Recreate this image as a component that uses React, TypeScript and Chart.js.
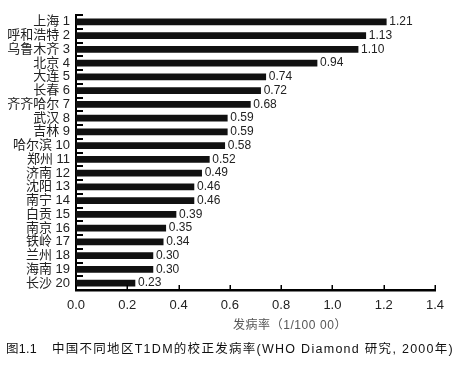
import React, { useEffect, useRef } from "react";
import { Chart, registerables } from "chart.js";

Chart.register(...registerables);

const cities = [
  "上海 1", "呼和浩特 2", "乌鲁木齐 3", "北京 4", "大连 5", "长春 6", "齐齐哈尔 7",
  "武汉 8", "吉林 9", "哈尔滨 10", "郑州 11", "济南 12", "沈阳 13", "南宁 14",
  "白贡 15", "南京 16", "铁岭 17", "兰州 18", "海南 19", "长沙 20",
];
const rates = [1.21, 1.13, 1.10, 0.94, 0.74, 0.72, 0.68, 0.59, 0.59, 0.58, 0.52, 0.49, 0.46, 0.46, 0.39, 0.35, 0.34, 0.30, 0.30, 0.23];
const xMin = 0;
const xMax = 1.4;
const xStep = 0.2;
const axisTitle = "发病率（1/100 00）";
const figLabel = "图1.1";
const caption = "中国不同地区T1DM的校正发病率(WHO Diamond 研究, 2000年)";

const SANS = '"Liberation Sans", "Noto Sans CJK SC", sans-serif';

function fitText(ctx: any, text: string, x: number, y: number, width: number) {
  ctx.letterSpacing = "0px";
  const w = ctx.measureText(text).width;
  const n = Array.from(text).length;
  const sp = Math.max(0, (width - w) / n);
  ctx.letterSpacing = sp.toFixed(2) + "px";
  ctx.fillText(text, x, y);
  ctx.letterSpacing = "0px";
}

const decorPlugin = {
  id: "decor",
  afterDraw(chart: any) {
    const ctx = chart.ctx;
    const area = chart.chartArea;
    const ys = chart.scales.y;
    const xs = chart.scales.x;
    ctx.save();
    // inward ticks on y axis at category boundaries
    ctx.fillStyle = "#000";
    const n = cities.length;
    const cat = (area.bottom - area.top) / n;
    for (let i = 0; i < n; i++) {
      const y = Math.round(ys.getPixelForValue(i) - cat / 2);
      ctx.fillRect(area.left - 1, y - 1, 8, 2);
    }
    // inward ticks on x axis
    for (let v = xMin; v <= xMax + 1e-9; v += xStep) {
      const x = Math.round(xs.getPixelForValue(v));
      ctx.fillRect(x - 0.5, area.bottom - 5, 1.5, 5);
    }
    // value labels
    const meta = chart.getDatasetMeta(0);
    ctx.fillStyle = "#222";
    ctx.font = "12px " + SANS;
    ctx.textAlign = "left";
    ctx.textBaseline = "middle";
    meta.data.forEach((el: any, i: number) => {
      ctx.fillText(rates[i].toFixed(2), el.x + 3, el.y);
    });
    // axis title
    ctx.fillStyle = "#555";
    ctx.font = "12px " + SANS;
    ctx.textAlign = "left";
    fitText(ctx, axisTitle, 233, area.bottom + 36, 114);
    // caption
    ctx.fillStyle = "#111";
    ctx.font = "12.5px " + SANS;
    fitText(ctx, figLabel, 6, area.bottom + 60, 31);
    fitText(ctx, caption, 52, area.bottom + 60, 402);
    ctx.restore();
  },
};

export default function App() {
  const ref = useRef<HTMLCanvasElement | null>(null);
  useEffect(() => {
    if (!ref.current) return;
    const chart = new Chart(ref.current, {
      type: "bar",
      data: {
        labels: cities,
        datasets: [
          {
            data: rates,
            backgroundColor: "#111",
            barThickness: 6,
            borderWidth: 0,
          },
        ],
      },
      options: {
        indexAxis: "y",
        animation: false,
        responsive: false,
        events: [],
        layout: { padding: { top: 15, right: 23, left: 0, bottom: 0 } },
        plugins: { legend: { display: false }, tooltip: { enabled: false } },
        scales: {
          y: {
            type: "category",
            afterFit: (s: any) => {
              s.width = 76;
            },
            grid: { display: true, drawOnChartArea: false, drawTicks: false },
            border: { display: true, color: "#000", width: 2 },
            ticks: { color: "#222", padding: 6, autoSkip: false, font: { size: 13, family: SANS } },
          },
          x: {
            type: "linear",
            min: xMin,
            max: xMax,
            afterFit: (s: any) => {
              s.height = 80;
            },
            grid: { display: true, drawOnChartArea: false, drawTicks: false },
            border: { display: true, color: "#000", width: 2.5 },
            ticks: {
              stepSize: xStep,
              color: "#222",
              padding: 8,
              font: { size: 13, family: SANS },
              callback: (v: any) => Number(v).toFixed(1),
            },
          },
        },
      },
      plugins: [decorPlugin],
    });
    return () => chart.destroy();
  }, []);
  return (
    <div style={{ position: "fixed", left: 0, top: 0, width: 458, height: 370, background: "#fff" }}>
      <canvas ref={ref} width={458} height={370} style={{ width: 458, height: 370 }} />
    </div>
  );
}
